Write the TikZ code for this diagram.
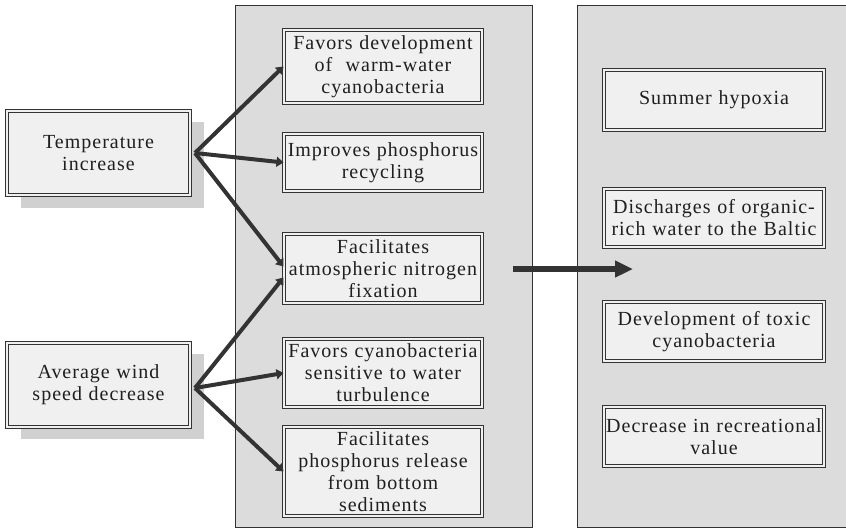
\documentclass[tikz,border=0pt]{standalone}
\usepackage{fontspec}
\setmainfont{Liberation Serif}[LetterSpace=5]
\usetikzlibrary{arrows.meta}

\definecolor{panelgray}{HTML}{DCDCDC}
\definecolor{boxgray}{HTML}{F0F0F0}
\definecolor{shadowgray}{HTML}{D0D0D0}
\definecolor{inkgray}{HTML}{333333}

\tikzset{
  panel/.style={draw=inkgray, line width=1pt, fill=panelgray, inner sep=0pt},
  factor/.style={draw=inkgray, line width=1pt, double=boxgray, double distance=2pt,
    fill=boxgray, align=center, inner sep=0pt, text=black!88,
    font=\fontsize{20}{22}\selectfont},
  effect/.style={factor, minimum width=198pt, text width=196pt},
  impact/.style={factor, minimum width=220pt, text width=218pt},
  cause/.style={factor, minimum width=183pt, minimum height=84pt, text width=170pt},
  push/.style={draw=inkgray, line width=4pt, -{Triangle[length=7pt,width=10pt]}},
}

\begin{document}
\begin{tikzpicture}[x=1pt,y=-1pt]
\useasboundingbox (0,0) rectangle (846,531);

% the two grey panels
\node[panel, minimum width=297pt, minimum height=522pt] (mid) at (384,266.5) {};
\node[panel, minimum width=271pt, minimum height=522pt] (right) at (713,266.5) {};

% drop shadows under the causes
\fill[shadowgray] (21,122) rectangle (204,208);
\fill[shadowgray] (21,354) rectangle (204,439);

\node[cause] (temp) at (98.5,153) {Temperature\\increase};
\node[cause] (wind) at (98.5,385) {Average wind\\speed decrease};

\node[effect, minimum height=73pt] (dev)   at (383,66.5)  {Favors development\\of \ warm-water\\cyanobacteria};
\node[effect, minimum height=57pt] (recyc) at (383,162.5) {Improves phosphorus\\recycling};
\node[effect, minimum height=69pt] (fix)   at (383,268.5) {Facilitates\\atmospheric nitrogen\\fixation};
\node[effect, minimum height=68pt] (turb)  at (383,373)   {Favors cyanobacteria\\sensitive to water\\turbulence};
\node[effect, minimum height=89pt] (sed)   at (383,471.5) {Facilitates\\phosphorus release\\from bottom\\sediments};

\node[impact, minimum height=60pt] (hyp)   at (714,100)   {Summer hypoxia};
\node[impact, minimum height=58pt] (disch) at (714,218)   {Discharges of organic-\\rich water to the Baltic};
\node[impact, minimum height=59pt] (toxic) at (714,331.5) {Development of toxic\\cyanobacteria};
\node[impact, minimum height=59pt] (recr)  at (714,436.5) {Decrease in recreational\\value};

\coordinate (tb) at (195,153);
\coordinate (wb) at (195,388);
\coordinate (out) at (513,269);
\coordinate (in) at (633,269);

\foreach \from/\to in {tb/dev.west, tb/recyc.west, wb/turb.west, wb/sed.west}
  \draw[push] (\from) -- (\to);
\draw[push] (tb) -- ([yshift=2pt]fix.west);
\draw[push] (wb) -- ([yshift=-9pt]fix.west);

\draw[draw=inkgray, line width=6pt, -{Triangle[length=18pt,width=16pt]}] (out) -- (in);
\end{tikzpicture}
\end{document}
